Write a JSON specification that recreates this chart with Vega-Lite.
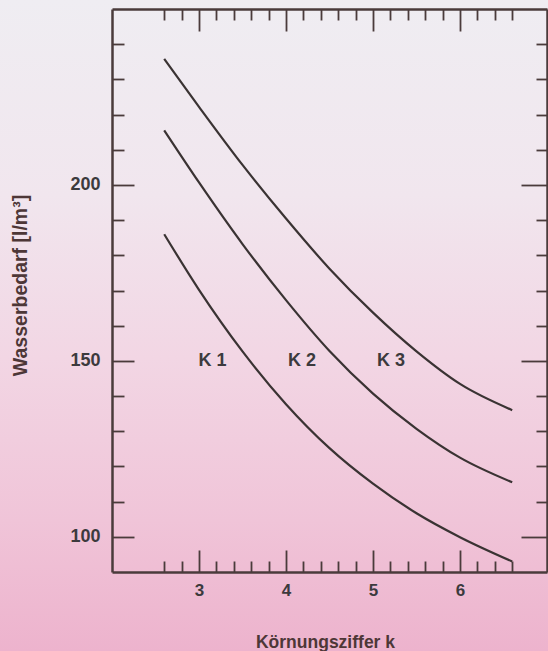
{
  "$schema": "https://vega.github.io/schema/vega-lite/v6.json",
  "width": 435,
  "height": 563,
  "autosize": {"type": "none"},
  "padding": {"left": 112, "top": 9, "right": 1, "bottom": 79},
  "background": "#f1d8e5",
  "config": {
    "view": {"stroke": null},
    "font": "Liberation Sans",
    "axis": {
      "domainColor": "#4a3b3b",
      "domainWidth": 2.5,
      "tickColor": "#4a3b3b",
      "tickWidth": 1.8,
      "grid": false,
      "labelFont": "Liberation Sans",
      "labelFontWeight": "bold",
      "labelColor": "#3c3a3d",
      "titleFont": "Liberation Sans",
      "titleFontWeight": "bold",
      "titleColor": "#4d3737"
    }
  },
  "datasets": {
    "curves": [
      {"curve": "K 1", "k": 2.6, "w": 186},
      {"curve": "K 1", "k": 3.0, "w": 170.2},
      {"curve": "K 1", "k": 3.5, "w": 152.7},
      {"curve": "K 1", "k": 4.0, "w": 137.7},
      {"curve": "K 1", "k": 4.5, "w": 125.2},
      {"curve": "K 1", "k": 5.0, "w": 115.1},
      {"curve": "K 1", "k": 5.5, "w": 106.7},
      {"curve": "K 1", "k": 6.0, "w": 99.9},
      {"curve": "K 1", "k": 6.6, "w": 93.0},
      {"curve": "K 2", "k": 2.6, "w": 215.5},
      {"curve": "K 2", "k": 3.0, "w": 200.7},
      {"curve": "K 2", "k": 3.5, "w": 183.2},
      {"curve": "K 2", "k": 4.0, "w": 167.25},
      {"curve": "K 2", "k": 4.5, "w": 152.8},
      {"curve": "K 2", "k": 5.0, "w": 140.7},
      {"curve": "K 2", "k": 5.5, "w": 130.7},
      {"curve": "K 2", "k": 6.0, "w": 122.5},
      {"curve": "K 2", "k": 6.6, "w": 115.5},
      {"curve": "K 3", "k": 2.6, "w": 235.8},
      {"curve": "K 3", "k": 3.0, "w": 222.2},
      {"curve": "K 3", "k": 3.5, "w": 205.7},
      {"curve": "K 3", "k": 4.0, "w": 190.45},
      {"curve": "K 3", "k": 4.5, "w": 176.2},
      {"curve": "K 3", "k": 5.0, "w": 163.7},
      {"curve": "K 3", "k": 5.5, "w": 152.7},
      {"curve": "K 3", "k": 6.0, "w": 143.45},
      {"curve": "K 3", "k": 6.6, "w": 136.0}
    ],
    "labels": [
      {"label": "K 1", "k": 3.155, "w": 150},
      {"label": "K 2", "k": 4.184, "w": 150},
      {"label": "K 3", "k": 5.207, "w": 150}
    ]
  },
  "layer": [
    {
      "data": {"values": [{}]},
      "mark": {
        "type": "rect",
        "clip": false,
        "fill": {
          "gradient": "linear", "x1": 0, "y1": 0, "x2": 0, "y2": 1,
          "stops": [
            {"offset": 0, "color": "#efedf2"},
            {"offset": 0.3, "color": "#f1e6ee"},
            {"offset": 0.55, "color": "#f2d6e4"},
            {"offset": 0.8, "color": "#f0c4d8"},
            {"offset": 1, "color": "#edb3cd"}
          ]
        }
      },
      "encoding": {
        "x": {"datum": 0.7, "type": "quantitative", "axis": null},
        "x2": {"datum": 7.05},
        "y": {"datum": 252.6, "type": "quantitative", "axis": null},
        "y2": {"datum": 67.5}
      }
    },
    {
      "data": {"name": "curves"},
      "mark": {"type": "line", "interpolate": "monotone", "color": "#3a3333", "strokeWidth": 2.2},
      "encoding": {
        "x": {
          "field": "k", "type": "quantitative",
          "scale": {"domain": [2, 7], "nice": false, "zero": false},
          "axis": {
            "orient": "bottom",
            "zindex": 3,
            "values": [2.6, 2.8, 3, 3.2, 3.4, 3.6, 3.8, 4, 4.2, 4.4, 4.6, 4.8, 5, 5.2, 5.4, 5.6, 5.8, 6, 6.2, 6.4, 6.6],
            "format": ".0f",
            "tickSize": {"condition": {"test": "abs(datum.value - round(datum.value)) < 0.01", "value": -22}, "value": -11},
            "labelExpr": "abs(datum.value - round(datum.value)) < 0.01 ? datum.label : ''",
            "labelFontSize": 17,
            "labelPadding": 32,
            "labelBaseline": "top",
            "labelFlush": false,
            "labelOverlap": false,
            "title": "Körnungsziffer k",
            "titleFontSize": 17.5,
            "titleBaseline": "alphabetic",
            "titleAlign": "center",
            "titleX": 213,
            "titleY": 75
          }
        },
        "y": {
          "field": "w", "type": "quantitative",
          "scale": {"domain": [90, 250], "nice": false, "zero": false},
          "axis": {
            "orient": "left",
            "zindex": 3,
            "values": [100, 110, 120, 130, 140, 150, 160, 170, 180, 190, 200, 210, 220, 230, 240],
            "tickSize": {"condition": {"test": "datum.value % 50 === 0", "value": -22}, "value": -12},
            "labelExpr": "datum.value % 50 === 0 ? datum.label : ''",
            "labelFontSize": 18,
            "labelPadding": 34,
            "labelFlush": false,
            "labelOverlap": false,
            "title": "Wasserbedarf [l/m³]",
            "titleFontSize": 19.5,
            "titleAngle": -90,
            "titleBaseline": "alphabetic",
            "titleAlign": "center",
            "titleX": -86,
            "titleY": 276
          }
        },
        "detail": {"field": "curve"}
      }
    },
    {
      "data": {"name": "labels"},
      "mark": {"type": "text", "fontSize": 18, "fontWeight": "bold", "color": "#3c3a3d", "font": "Liberation Sans"},
      "encoding": {
        "x": {
          "field": "k", "type": "quantitative",
          "axis": {
            "orient": "top",
            "zindex": 3,
            "values": [2.6, 2.8, 3, 3.2, 3.4, 3.6, 3.8, 4, 4.2, 4.4, 4.6, 4.8, 5, 5.2, 5.4, 5.6, 5.8, 6, 6.2, 6.4, 6.6],
            "tickSize": {"condition": {"test": "abs(datum.value - round(datum.value)) < 0.01", "value": -22}, "value": -11},
            "labels": false,
            "title": null
          }
        },
        "y": {
          "field": "w", "type": "quantitative",
          "axis": {
            "orient": "right",
            "zindex": 3,
            "values": [100, 110, 120, 130, 140, 150, 160, 170, 180, 190, 200, 210, 220, 230, 240],
            "tickSize": {"condition": {"test": "datum.value % 50 === 0", "value": -26}, "value": -11},
            "labels": false,
            "title": null
          }
        },
        "text": {"field": "label"}
      }
    }
  ],
  "resolve": {"axis": {"x": "independent", "y": "independent"}}
}
